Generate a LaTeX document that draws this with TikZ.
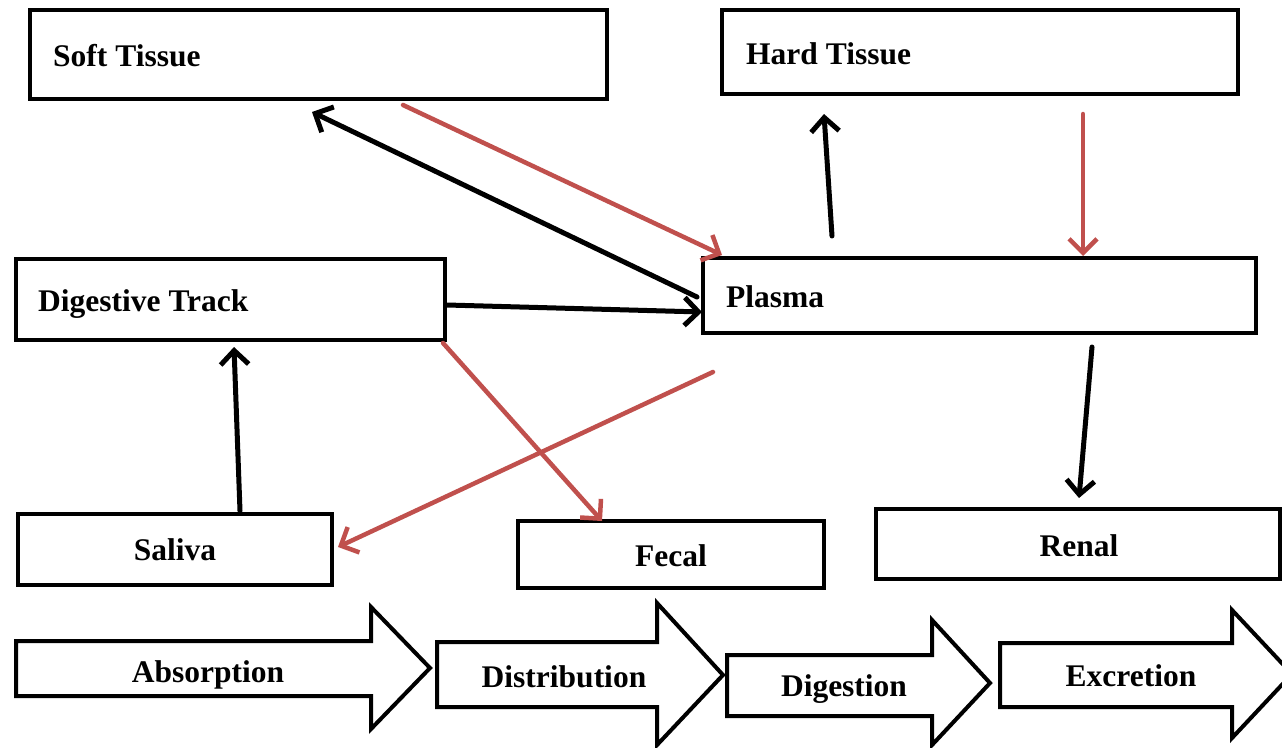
\documentclass[tikz,border=0pt]{standalone}
\usepackage{fontspec}
\setmainfont{Liberation Serif}
\usetikzlibrary{arrows.meta}
\definecolor{redarr}{RGB}{192,80,77}
\begin{document}
\begin{tikzpicture}[x=1pt,y=-1pt,
  box/.style={draw=black,line width=4pt,inner sep=0pt,fill=white},
  lbl/.style={font=\fontsize{31.5}{36}\selectfont\bfseries,inner sep=0pt},
  blk/.style={draw=black,line width=5pt,-{Straight Barb[length=14pt,width=28pt]},line cap=round,line join=round},
  rd/.style={draw=redarr,line width=4.5pt,-{Straight Barb[length=14pt,width=28pt]},line cap=round,line join=round},
  barrow/.style={draw=black,line width=4pt,fill=white,line join=miter}]
\clip (0,0) rectangle (1282,747);
% boxes
\node[box,minimum width=577pt,minimum height=89pt] (soft) at (318.5,54.5) {};
\node[lbl,anchor=base west] (softl) at (53,66) {Soft Tissue};
\node[box,minimum width=516pt,minimum height=84pt] (hard) at (980,52) {};
\node[lbl,anchor=base west] (hardl) at (746,64) {Hard Tissue};
\node[box,minimum width=429pt,minimum height=81pt] (dig) at (230.5,299.5) {};
\node[lbl,anchor=base west] (digl) at (38,311) {Digestive Track};
\node[box,minimum width=553pt,minimum height=75pt] (plasma) at (979.5,295.5) {};
\node[lbl,anchor=base west] (plasmal) at (726,307) {Plasma};
\node[box,minimum width=314pt,minimum height=71pt] (saliva) at (175,549.5) {};
\node[lbl,anchor=base] (salival) at (175,560) {Saliva};
\node[box,minimum width=306pt,minimum height=67pt] (fecal) at (671,554.5) {};
\node[lbl,anchor=base] (fecall) at (671,566) {Fecal};
\node[box,minimum width=404pt,minimum height=70pt] (renal) at (1078,544) {};
\node[lbl,anchor=base] (renall) at (1079,556) {Renal};
% connector end points
\coordinate (pS) at (697,297);
\coordinate (sP) at (312,112);
\coordinate (sR) at (403,105);
\coordinate (pR) at (722,255);
\coordinate (dP) at (447,305);
\coordinate (pD) at (702,312);
\coordinate (pH) at (832,236);
\coordinate (hP) at (824,114);
\coordinate (hR) at (1083,114);
\coordinate (rP) at (1083,256);
\coordinate (pRn) at (1092,347);
\coordinate (rnP) at (1079,498);
\coordinate (saD) at (240,511);
\coordinate (dSa) at (234,347);
\coordinate (dF) at (443,343);
\coordinate (fD) at (602,521);
\coordinate (pSa) at (713,372);
\coordinate (saP) at (338,547);
% connectors
\draw[blk] (pS) -- (sP);
\draw[rd] (sR) -- (pR);
\draw[blk] (dP) -- (pD);
\draw[blk] (pH) -- (hP);
\draw[rd] (hR) -- (rP);
\draw[blk] (pRn) -- (rnP);
\draw[blk] (saD) -- (dSa);
\draw[rd] (dF) -- (fD);
\draw[rd] (pSa) -- (saP);
% block arrows
\draw[barrow] (16,641) -- (371,641) -- (371,607) -- (430,668) -- (371,729) -- (371,696) -- (16,696) -- cycle;
\node[lbl,anchor=base] (absl) at (208,682) {Absorption};
\draw[barrow] (437,642) -- (657,642) -- (657,603) -- (723,675) -- (657,745) -- (657,707) -- (437,707) -- cycle;
\node[lbl,anchor=base] (distl) at (564,687) {Distribution};
\draw[barrow] (727,655) -- (932,655) -- (932,620) -- (990,683) -- (932,745) -- (932,716) -- (727,716) -- cycle;
\node[lbl,anchor=base] (digel) at (844,696) {Digestion};
\draw[barrow] (1000,643) -- (1232,643) -- (1232,610) -- (1292,674) -- (1232,738) -- (1232,707) -- (1000,707) -- cycle;
\node[lbl,anchor=base] (excl) at (1131,686) {Excretion};
\end{tikzpicture}
\end{document}
